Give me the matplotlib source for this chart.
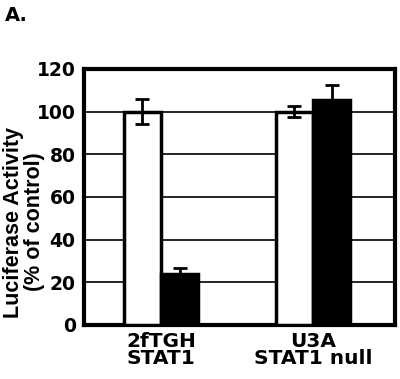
import matplotlib
matplotlib.use("Agg")
import matplotlib.pyplot as plt
import numpy as np

categories = ["2fTGH\nSTAT1", "U3A\nSTAT1 null"]
white_vals = [100, 100]
white_err = [6, 2.5]
black_vals = [24, 105.5]
black_err = [2.5, 7]
yticks = [0, 20, 40, 60, 80, 100, 120]

plt.rcParams['font.family'] = ['DejaVu Sans']

fig = plt.figure(figsize=(4.0, 3.79), dpi=100)
ax = fig.add_axes([0.21, 0.1425, 0.7775, 0.6755])

x = np.arange(len(categories))
w = 0.245
ax.bar(x - w/2, white_vals, w, color='white', edgecolor='black', linewidth=2.5, zorder=3)
ax.bar(x + w/2, black_vals, w, color='black', edgecolor='black', linewidth=2.5, zorder=3)
ax.errorbar(x - w/2, white_vals, yerr=white_err, fmt='none', ecolor='black',
            elinewidth=2, capsize=5, capthick=2, zorder=4)
ax.errorbar(x + w/2, black_vals, yerr=[[0, 0], black_err], fmt='none', ecolor='black',
            elinewidth=2, capsize=5, capthick=2, zorder=4)

ax.set_xlim(-0.507, 1.54)
ax.set_ylim(0, 120)
ax.set_yticks(yticks)
ax.set_yticklabels([str(t) for t in yticks], fontsize=13.5, fontweight='bold')
ax.set_xticks(x)
ax.set_xticklabels(categories, fontsize=14.5, fontweight='bold', linespacing=0.9)
ax.tick_params(axis='both', length=0, pad=6)
ax.tick_params(axis='x', pad=5)
ax.yaxis.grid(True, color='black', linewidth=1.2, zorder=0)
ax.set_axisbelow(True)
for s in ax.spines.values():
    s.set_linewidth(3)

fig.text(24/400, 1 - 222/379, "Luciferase Activity\n(% of control)", fontsize=15.5,
         fontweight='bold', family=['Liberation Sans', 'DejaVu Sans'], linespacing=1.0,
         rotation=90, ha='center', va='center', multialignment='center')

fig.text(0.012, 0.985, "A.", fontsize=14, fontweight='bold', va='top', ha='left')

fig.savefig("out.png", dpi=100)
